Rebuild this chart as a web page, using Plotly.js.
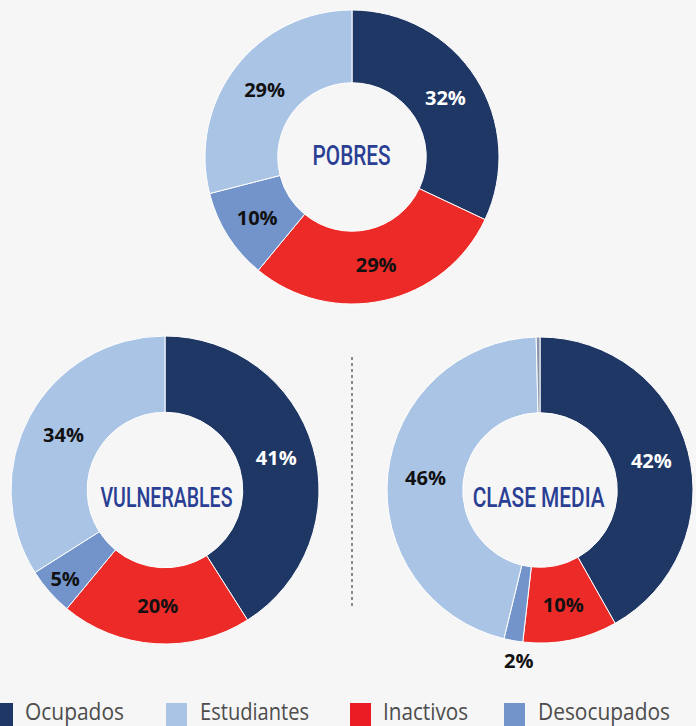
<!DOCTYPE html>
<html>
<head>
<meta charset="utf-8">
<script src="https://cdn.plot.ly/plotly-3.0.1.min.js"></script>
<style>html,body{margin:0;padding:0;background:#f6f6f6;overflow:hidden;}#chart{width:696px;height:726px;}</style>
</head>
<body>
<div id="chart"></div>
<script>
// Data
const categories = ["Ocupados", "Inactivos", "Desocupados", "Estudiantes"];
const legendOrder = ["Ocupados", "Estudiantes", "Inactivos", "Desocupados"];
const pobres = [32, 29, 10, 29];
const vulnerables = [41, 20, 5, 34];
const claseMedia = [42, 10, 2, 46];
const claseMediaOtro = 0.4; // thin grey sliver at 12 o'clock
const groupTitles = ["POBRES", "VULNERABLES", "CLASE MEDIA"];

const colorMap = {
  "Ocupados": "#1f3765",
  "Inactivos": "#ec2b28",
  "Desocupados": "#7294cb",
  "Estudiantes": "#a9c4e5",
  "Otro": "#8796aa"
};
const legendColor = {
  "Ocupados": "#1f3765",
  "Estudiantes": "#a9c4e5",
  "Inactivos": "#ec1c24",
  "Desocupados": "#7294cb"
};

const W = 696, H = 726;
function dom(cx, cy, r) {
  return {x: [(cx - r) / W, (cx + r) / W], y: [(H - cy - r) / H, (H - cy + r) / H]};
}
const textColor = lbl => lbl === "Ocupados" ? "#ffffff" : "#111111";
const labelFont = "Open Sans, Noto Sans, sans-serif";
const titleFont = {family: "Roboto, Open Sans, sans-serif", size: 28, weight: 500, color: "#2a3f94"};
const titleWidths = [78, 132, 132];
const titlePos = [[351, 156], [166, 497], [539, 498]];

function makePie(values, labels, domain, positions) {
  return {
    type: "pie",
    values: values,
    labels: labels,
    text: values.map((v, i) => labels[i] === "Otro" ? "" : v + "%"),
    textinfo: "text",
    hoverinfo: "label+text",
    sort: false,
    direction: "clockwise",
    rotation: 0,
    hole: 0.505,
    domain: domain,
    marker: {colors: labels.map(l => colorMap[l]), line: {color: "#ffffff", width: 1}},
    textposition: positions || "inside",
    insidetextorientation: "horizontal",
    textfont: {family: labelFont, size: 20, weight: "bold", color: labels.map(textColor)},
    showlegend: false
  };
}

const cmLabels = categories.concat(["Otro"]);
const cmValues = claseMedia.concat([claseMediaOtro]);

const data = [
  makePie(pobres, categories, dom(352, 157, 147)),
  makePie(vulnerables, categories, dom(165, 490, 154)),
  makePie(cmValues, cmLabels, dom(540, 490, 153),
          ["inside", "inside", "none", "inside", "none"])
];

const shapes = [{
  type: "line", xref: "paper", yref: "paper",
  x0: 352 / W, x1: 352 / W, y0: (H - 357) / H, y1: (H - 608) / H,
  line: {color: "#8a8a8a", width: 2, dash: "dot"}
}];
const annotations = [{
  // outside label of the small "Desocupados" slice of CLASE MEDIA
  xref: "paper", yref: "paper", x: 518 / W, y: (H - 660) / H,
  xanchor: "center", yanchor: "middle", showarrow: false,
  text: claseMedia[2] + "%",
  font: {family: labelFont, size: 20, weight: "bold", color: "#111111"}
}];

// centre titles
groupTitles.forEach((t, i) => {
  annotations.push({
    xref: "paper", yref: "paper", x: titlePos[i][0] / W, y: (H - titlePos[i][1]) / H,
    xanchor: "center", yanchor: "middle", showarrow: false, text: t, font: titleFont
  });
});

// Legend drawn as shapes + annotations
const legendSquareX = [-8, 166, 350, 504];
const legendTextX = [23, 198, 381, 536];
const legendWidths = [99, 109, 85, 132];
legendOrder.forEach((lbl, i) => {
  const x0 = legendSquareX[i];
  shapes.push({
    type: "rect", xref: "paper", yref: "paper",
    x0: x0 / W, x1: (x0 + 21) / W, y0: (H - 732) / H, y1: (H - 703) / H,
    fillcolor: legendColor[lbl], line: {width: 0}
  });
  annotations.push({
    xref: "paper", yref: "paper", x: legendTextX[i] / W, y: (H - 710) / H,
    xanchor: "left", yanchor: "middle", showarrow: false, text: lbl,
    font: {family: "Open Sans, Noto Sans, sans-serif", size: 24, color: "#4d4d4d"}
  });
});

const layout = {
  width: W, height: H,
  margin: {l: 0, r: 0, t: 0, b: 0},
  paper_bgcolor: "#f6f6f6",
  plot_bgcolor: "#f6f6f6",
  showlegend: false,
  shapes: shapes,
  annotations: annotations
};

Plotly.newPlot("chart", data, layout, {displayModeBar: false}).then(gd => {
  gd.querySelectorAll("text.annotation-text").forEach(t => {
    const s = t.textContent.trim();
    const ti = groupTitles.indexOf(s);
    if (ti >= 0) {
      t.setAttribute("textLength", titleWidths[ti]);
      t.setAttribute("lengthAdjust", "spacingAndGlyphs");
      return;
    }
    const idx = legendOrder.indexOf(s);
    if (idx < 0) return;
    const bb = t.getBBox();
    t.setAttribute("text-anchor", "start");
    t.setAttribute("x", bb.x);
    t.setAttribute("textLength", legendWidths[idx]);
    t.setAttribute("lengthAdjust", "spacingAndGlyphs");
  });
});
</script>
</body>
</html>
